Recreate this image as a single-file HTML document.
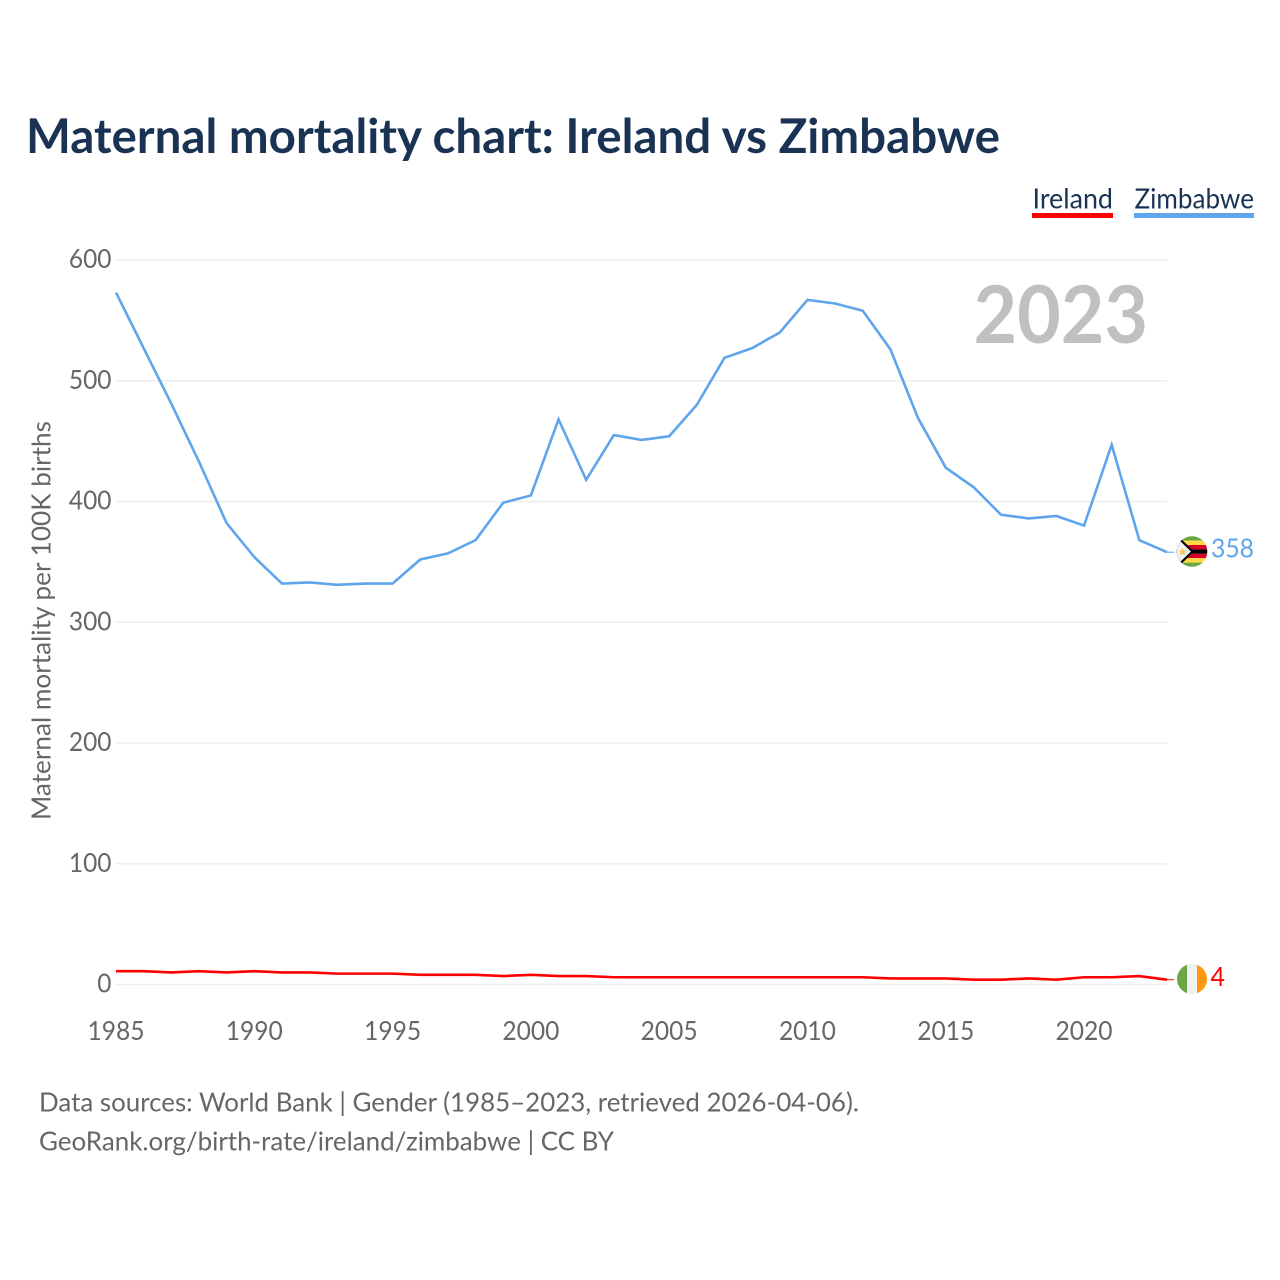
<!DOCTYPE html>
<html lang="en">
<head>
<meta charset="utf-8">
<title>Maternal mortality chart: Ireland vs Zimbabwe</title>
<style>
html,body{margin:0;padding:0;background:#fff;width:1280px;height:1280px;overflow:hidden}
svg{display:block}
text{font-family:"Lato","Carlito","Liberation Sans",sans-serif}
</style>
</head>
<body>
<svg id="chart" xmlns="http://www.w3.org/2000/svg" width="1280" height="1280" viewBox="0 0 1280 1280">
  <rect x="0" y="0" width="1280" height="1280" fill="#ffffff"/>
  <text x="26" y="153" font-size="48" font-weight="700" fill="#1a3354" textLength="974" lengthAdjust="spacingAndGlyphs">Maternal mortality chart: Ireland vs Zimbabwe</text>

  <g>
    <text x="1032.5" y="208.5" font-size="28" fill="#1a3354" textLength="80.5" lengthAdjust="spacingAndGlyphs">Ireland</text>
    <rect x="1032" y="213" width="81" height="5" fill="#ff0000"/>
  </g>
  <g>
    <text x="1134.5" y="208.5" font-size="28" fill="#1a3354" textLength="119.5" lengthAdjust="spacingAndGlyphs">Zimbabwe</text>
    <rect x="1134" y="213" width="120" height="5" fill="#5fa5ec"/>
  </g>

  <g id="grid"></g>
  <g id="yticks"></g>
  <g id="xticks"></g>

  <text transform="translate(50.5,620.5) rotate(-90)" text-anchor="middle" font-size="26" fill="#666666" textLength="399" lengthAdjust="spacingAndGlyphs">Maternal mortality per 100K births</text>

  <text x="973.5" y="343" font-size="80" font-weight="700" fill="#c0c0c0" textLength="174.5" lengthAdjust="spacingAndGlyphs">2023</text>

  <g id="series"></g>

  <defs>
    <clipPath id="clip-zw"><circle cx="1192" cy="551.5" r="15.3"/></clipPath>
    <clipPath id="clip-ie"><circle cx="1192" cy="979" r="15"/></clipPath>
  </defs>

  <g clip-path="url(#clip-zw)">
    <rect x="1176" y="536" width="32" height="4.6" fill="#6da544"/>
    <rect x="1176" y="540.6" width="32" height="4.4" fill="#ffda44"/>
    <rect x="1176" y="545" width="32" height="4.4" fill="#d80027"/>
    <rect x="1176" y="549.4" width="32" height="4.4" fill="#000000"/>
    <rect x="1176" y="553.8" width="32" height="4.4" fill="#d80027"/>
    <rect x="1176" y="558.2" width="32" height="4.4" fill="#ffda44"/>
    <rect x="1176" y="562.6" width="32" height="4.9" fill="#6da544"/>
    <polygon points="1176,534 1194,551.5 1176,569" fill="#000000"/>
    <polygon points="1176,537 1191,551.5 1176,566" fill="#f0f0f0"/>
    <polygon points="1182.5,548 1183.6,550.6 1186.4,550.8 1184.3,552.6 1185,555.2 1182.5,553.8 1180,555.2 1180.7,552.6 1178.6,550.8 1181.4,550.6" fill="#ffc24a"/>
  </g>
  <g clip-path="url(#clip-ie)">
    <rect x="1177" y="964" width="10" height="30" fill="#6da544"/>
    <rect x="1187" y="964" width="10" height="30" fill="#f0f0f0"/>
    <rect x="1197" y="964" width="10" height="30" fill="#ff9811"/>
  </g>

  <text id="label-zw" x="1211" y="557.5" font-size="26" fill="#5fa5ec" textLength="43" lengthAdjust="spacingAndGlyphs"></text>
  <text id="label-ie" x="1210.5" y="986" font-size="26" fill="#ff0000" textLength="14.5" lengthAdjust="spacingAndGlyphs"></text>

  <text x="39" y="1111.5" font-size="26.5" fill="#666666" textLength="820" lengthAdjust="spacingAndGlyphs">Data sources: World Bank | Gender (1985–2023, retrieved 2026-04-06).</text>
  <text x="39" y="1150.5" font-size="26.5" fill="#666666" textLength="575" lengthAdjust="spacingAndGlyphs">GeoRank.org/birth-rate/ireland/zimbabwe | CC BY</text>
</svg>

<script>
const years = [1985,1986,1987,1988,1989,1990,1991,1992,1993,1994,1995,1996,1997,1998,1999,2000,2001,2002,2003,2004,2005,2006,2007,2008,2009,2010,2011,2012,2013,2014,2015,2016,2017,2018,2019,2020,2021,2022,2023];
const zimbabwe = [573,527,481,433,382,354,332,333,331,332,332,352,357,368,399,405,468,418,455,451,454,480,519,527,540,567,564,558,526,469,428,412,389,386,388,380,447,368,358];
const ireland = [11,11,10,11,10,11,10,10,9,9,9,8,8,8,7,8,7,7,6,6,6,6,6,6,6,6,6,6,5,5,5,4,4,5,4,6,6,7,4];
const yTickValues = [0,100,200,300,400,500,600];
const xTickValues = [1985,1990,1995,2000,2005,2010,2015,2020];

const SVG_NS = 'http://www.w3.org/2000/svg';
const plotLeft = 116, plotRight = 1167, plotBottom = 984.5, plotTop = 260;

function xScale(year) {
  return plotLeft + (year - 1985) / (2023 - 1985) * (plotRight - plotLeft);
}
function yScale(value) {
  return plotBottom - value / 600 * (plotBottom - plotTop);
}

const gridGroup = document.getElementById('grid');
const yTickGroup = document.getElementById('yticks');
const xTickGroup = document.getElementById('xticks');
const seriesGroup = document.getElementById('series');

yTickValues.forEach(function (v) {
  const line = document.createElementNS(SVG_NS, 'line');
  
  
  line.setAttribute('x1', plotLeft);
  line.setAttribute('x2', plotRight);
  line.setAttribute('y1', yScale(v));
  line.setAttribute('y2', yScale(v));
  line.setAttribute('stroke', '#eeeeee');
  line.setAttribute('stroke-width', '1.5');
  gridGroup.appendChild(line);

  const label = document.createElementNS(SVG_NS, 'text');
  
  
  label.setAttribute('x', 111.5);
  label.setAttribute('y', yScale(v) + 8);
  label.setAttribute('text-anchor', 'end');
  label.setAttribute('font-size', '26');
  label.setAttribute('fill', '#666666');
  label.setAttribute('textLength', String(v).length * 14.2);
  label.setAttribute('lengthAdjust', 'spacingAndGlyphs');
  label.textContent = v;
  yTickGroup.appendChild(label);
});

xTickValues.forEach(function (y) {
  const label = document.createElementNS(SVG_NS, 'text');
  
  
  label.setAttribute('x', xScale(y));
  label.setAttribute('y', 1040);
  label.setAttribute('text-anchor', 'middle');
  label.setAttribute('font-size', '26');
  label.setAttribute('fill', '#666666');
  label.setAttribute('textLength', '57');
  label.setAttribute('lengthAdjust', 'spacingAndGlyphs');
  label.textContent = y;
  xTickGroup.appendChild(label);
});

function buildPoints(values) {
  return values.map(function (v, i) {
    return xScale(years[i]).toFixed(2) + ',' + yScale(v).toFixed(2);
  }).join(' ');
}

const irelandLine = document.createElementNS(SVG_NS, 'polyline');


irelandLine.setAttribute('points', buildPoints(ireland));
irelandLine.setAttribute('fill', 'none');
irelandLine.setAttribute('stroke', '#ff0000');
irelandLine.setAttribute('stroke-width', '2.6');
seriesGroup.appendChild(irelandLine);

const zimbabweLine = document.createElementNS(SVG_NS, 'polyline');


zimbabweLine.setAttribute('points', buildPoints(zimbabwe));
zimbabweLine.setAttribute('fill', 'none');
zimbabweLine.setAttribute('stroke', '#5fa5ec');
zimbabweLine.setAttribute('stroke-width', '2.6');
seriesGroup.appendChild(zimbabweLine);

const irelandConnector = document.createElementNS(SVG_NS, 'line');


irelandConnector.setAttribute('x1', plotRight);
irelandConnector.setAttribute('x2', plotRight + 7);
irelandConnector.setAttribute('y1', yScale(ireland[ireland.length - 1]));
irelandConnector.setAttribute('y2', yScale(ireland[ireland.length - 1]));
irelandConnector.setAttribute('stroke', '#ff0000');
irelandConnector.setAttribute('stroke-width', '1');
seriesGroup.appendChild(irelandConnector);

const zimbabweConnector = document.createElementNS(SVG_NS, 'line');


zimbabweConnector.setAttribute('x1', plotRight);
zimbabweConnector.setAttribute('x2', plotRight + 7);
zimbabweConnector.setAttribute('y1', yScale(zimbabwe[zimbabwe.length - 1]));
zimbabweConnector.setAttribute('y2', yScale(zimbabwe[zimbabwe.length - 1]));
zimbabweConnector.setAttribute('stroke', '#5fa5ec');
zimbabweConnector.setAttribute('stroke-width', '1');
seriesGroup.appendChild(zimbabweConnector);

document.getElementById('label-zw').textContent = zimbabwe[zimbabwe.length - 1];
document.getElementById('label-ie').textContent = ireland[ireland.length - 1];
</script>
</body>
</html>
